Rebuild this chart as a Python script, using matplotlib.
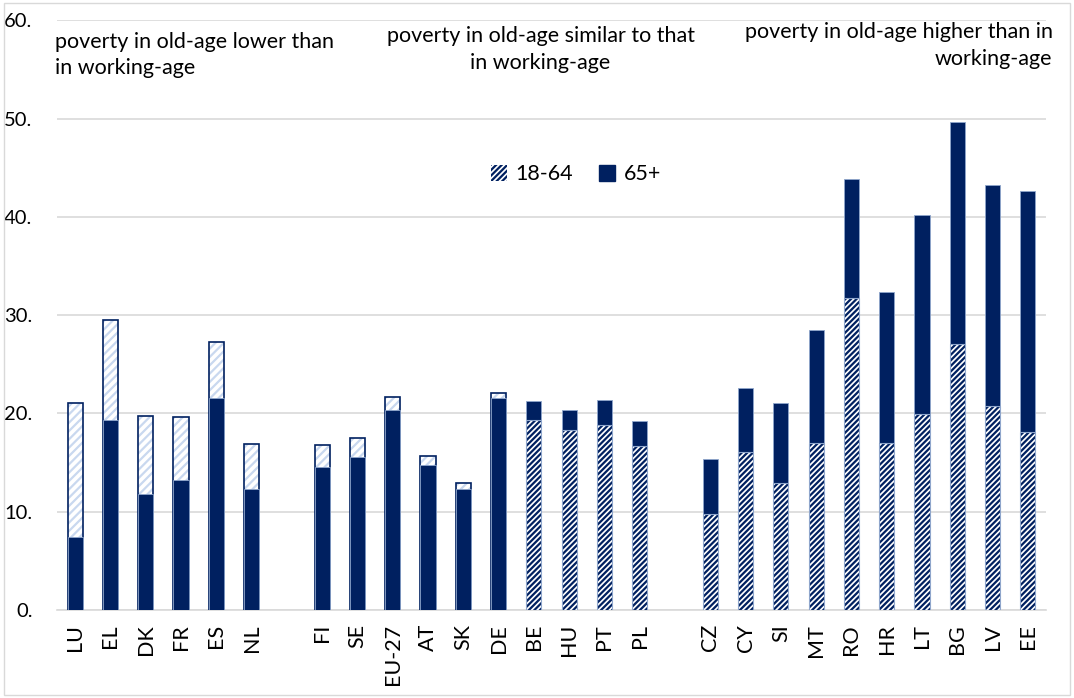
import numpy as np
import matplotlib
matplotlib.use("Agg")
import matplotlib.pyplot as plt
from matplotlib.patches import Patch

plt.rcParams['font.family'] = ['Lato', 'DejaVu Sans']
plt.rcParams['hatch.linewidth'] = 1.6

# data (None = blank spacer slot between groups)
countries = ['LU', 'EL', 'DK', 'FR', 'ES', 'NL', None,
             'FI', 'SE', 'EU-27', 'AT', 'SK', 'DE', 'BE', 'HU', 'PT', 'PL', None,
             'CZ', 'CY', 'SI', 'MT', 'RO', 'HR', 'LT', 'BG', 'LV', 'EE']
age_18_64 = [21.1, 29.5, 19.7, 19.6, 27.3, 16.9, None,
             16.8, 17.5, 21.7, 15.7, 12.9, 22.1, 19.3, 18.3, 18.8, 16.7, None,
             9.8, 16.1, 12.9, 17.0, 31.7, 17.0, 19.9, 27.1, 20.8, 18.1]
age_65 = [7.4, 19.3, 11.8, 13.2, 21.6, 12.3, None,
          14.6, 15.6, 20.4, 14.8, 12.3, 21.6, 21.3, 20.3, 21.4, 19.2, None,
          15.4, 22.6, 21.1, 28.5, 43.8, 32.4, 40.2, 49.6, 43.2, 42.6]
group_notes = ['poverty in old-age lower than\nin working-age',
               'poverty in old-age similar to that\nin working-age',
               'poverty in old-age higher than in\nworking-age']

navy = '#002060'
pale = '#c9d8ef'
edge_light = '#8fa6cc'

fig = plt.figure(figsize=(10.74, 6.98), dpi=100)
ax = fig.add_axes([0.0535, 0.126, 0.920, 0.845])

w = 0.43
for i, (c, a, b) in enumerate(zip(countries, age_18_64, age_65)):
    if c is None:
        continue
    if a >= b:
        # working-age bar behind, pale hatch
        ax.bar(i, a, w, color='white', hatch='////', edgecolor=pale, linewidth=0, zorder=2)
        ax.bar(i, a, w, fill=False, edgecolor=navy, linewidth=1.2, zorder=3)
        ax.bar(i, b, w, color=navy, edgecolor=edge_light, linewidth=0.6, zorder=4)
    else:
        ax.bar(i, b, w, color=navy, edgecolor=edge_light, linewidth=0.6, zorder=2)
        ax.bar(i, a, w, color='white', hatch='//////', edgecolor=navy, linewidth=0, zorder=3)
        ax.bar(i, a, w, fill=False, edgecolor=edge_light, linewidth=0.8, zorder=4)

ax.set_xlim(-0.5, len(countries) - 0.5)
ax.set_ylim(0, 60)
ax.set_yticks(np.arange(0, 61, 10))
ax.set_yticklabels([f'{v}.' for v in range(0, 61, 10)], fontsize=14.5)
ticks = [i for i, c in enumerate(countries) if c is not None]
ax.set_xticks(ticks)
ax.set_xticklabels([countries[i] for i in ticks], rotation=90, fontsize=15.5)
ax.tick_params(length=0, pad=10)
ax.tick_params(axis='y', pad=18)
ax.grid(axis='y', color='#d9d9d9', linewidth=1.2, zorder=0)
ax.set_axisbelow(True)
for s in ['left', 'right', 'top']:
    ax.spines[s].set_visible(False)
ax.spines['bottom'].set_color('#d9d9d9')
ax.spines['bottom'].set_linewidth(1.2)

ax.text(-0.57, 58.8, group_notes[0], fontsize=15.5, ha='left', va='top', linespacing=1.4)
ax.text(13.19, 59.4, group_notes[1], fontsize=15.5, ha='center', va='top', linespacing=1.4)
ax.text(27.7, 59.8, group_notes[2], fontsize=15.5, ha='right', va='top', linespacing=1.4)

handles = [Patch(facecolor='white', edgecolor=navy, hatch='//////', linewidth=0),
           Patch(facecolor=navy, edgecolor=navy)]
ax.legend(handles, ['18-64', '65+'], loc='center', bbox_to_anchor=(0.525, 0.739),
          ncol=2, frameon=False, fontsize=15.5, handlelength=0.75, handleheight=0.75,
          handletextpad=0.4, columnspacing=1.2)

fig.patches.append(plt.Rectangle((0.004, 0.004), 0.992, 0.992, transform=fig.transFigure,
                                 fill=False, edgecolor='#d9d9d9', linewidth=1))
fig.savefig('out.png', dpi=100)
